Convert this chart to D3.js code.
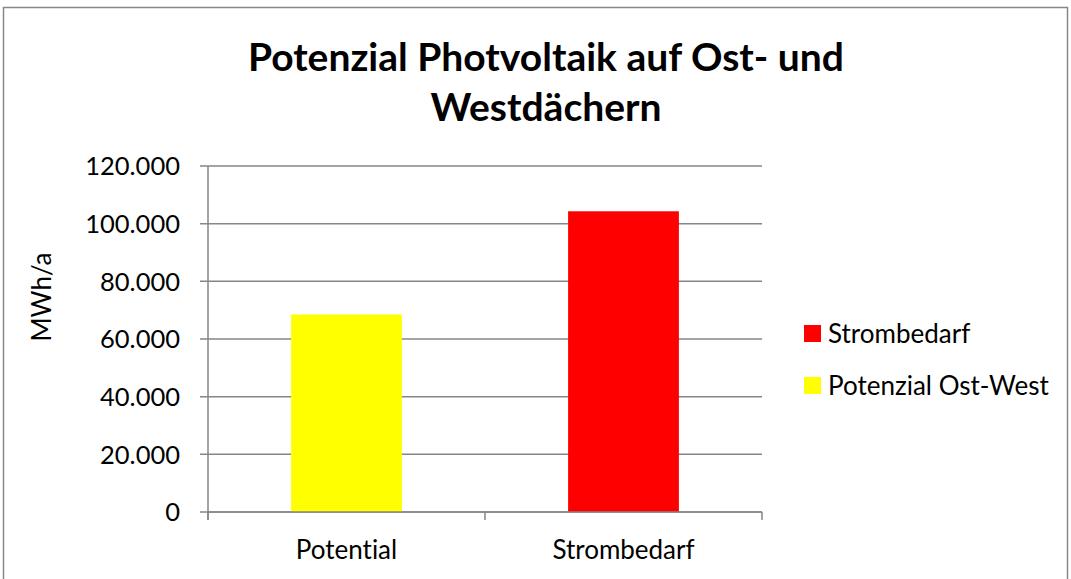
<html>
<head>
  <title>Potenzial Photvoltaik</title>
  <script src="https://d3js.org/d3.v7.min.js"></script>
  <style>
    body { margin: 0; background: #fff; }
    text { font-family: Lato, "Open Sans", sans-serif; fill: #000; font-variant-ligatures: none; }
  </style>
</head>
<body>
<script>
var width = 1071,
    height = 579;

// data
var categories = ["Potential", "Strombedarf"];
var values = [68500, 104300];
var barColors = ["#ffff00", "#ff0000"];
var legendLabels = ["Strombedarf", "Potenzial Ost-West"];
var legendColors = ["#ff0000", "#ffff00"];
var yTicks = [0, 20000, 40000, 60000, 80000, 100000, 120000];

var margin = {top: 166, left: 208, right: 309, bottom: 67};

var svg = d3.select("body")
  .append("svg")
  .attr("width", width)
  .attr("height", height);

// chart frame
svg.append("rect")
  .attr("x", 3.5).attr("y", 7.5)
  .attr("width", 1064).attr("height", 600)
  .attr("fill", "none")
  .attr("stroke", "#888")
  .attr("stroke-width", 1.5);

var x = d3.scaleBand()
  .domain(categories)
  .range([margin.left, width - margin.right])
  .paddingInner(0.6)
  .paddingOuter(0.3);

var y = d3.scaleLinear()
  .domain([0, 120000])
  .range([height - margin.bottom, margin.top]);

var fmt = function(d) { return d3.format(",")(d).replace(/,/g, "."); };

// gridlines
svg.append("g")
  .selectAll("line")
  .data(yTicks)
  .enter()
  .append("line")
    .attr("x1", margin.left - 8)
    .attr("x2", width - margin.right)
    .attr("y1", d => y(d))
    .attr("y2", d => y(d))
    .attr("stroke", "#868686")
    .attr("stroke-width", 1.5);

// bars
svg.append("g")
  .selectAll("rect")
  .data(values)
  .enter()
  .append("rect")
    .attr("x", (d, i) => x(categories[i]))
    .attr("width", x.bandwidth())
    .attr("y", d => y(d))
    .attr("height", d => y(0) - y(d))
    .attr("fill", (d, i) => barColors[i]);

// y axis line
svg.append("line")
  .attr("x1", margin.left).attr("x2", margin.left)
  .attr("y1", y(120000)).attr("y2", y(0) + 8)
  .attr("stroke", "#868686").attr("stroke-width", 1.5);

// x axis line + ticks
svg.append("line")
  .attr("x1", margin.left).attr("x2", width - margin.right)
  .attr("y1", y(0)).attr("y2", y(0))
  .attr("stroke", "#868686").attr("stroke-width", 1.5);

var step = (width - margin.right - margin.left) / categories.length;
svg.append("g")
  .selectAll("line")
  .data(d3.range(categories.length + 1))
  .enter()
  .append("line")
    .attr("x1", i => margin.left + i * step)
    .attr("x2", i => margin.left + i * step)
    .attr("y1", y(0))
    .attr("y2", y(0) + 8)
    .attr("stroke", "#868686").attr("stroke-width", 1.5);

// y tick labels
svg.append("g")
  .selectAll("text")
  .data(yTicks)
  .enter()
  .append("text")
    .attr("x", 180)
    .attr("y", d => y(d))
    .attr("dy", "0.36em")
    .attr("text-anchor", "end")
    .style("font-size", "25.5px")
    .text(fmt);

// category labels
svg.append("g")
  .selectAll("text")
  .data(categories)
  .enter()
  .append("text")
    .attr("x", d => x(d) + x.bandwidth() / 2)
    .attr("y", 559)
    .attr("text-anchor", "middle")
    .style("font-size", "26px")
    .text(d => d);

// y axis title
svg.append("text")
  .attr("transform", "translate(51,297) rotate(-90)")
  .attr("text-anchor", "middle")
  .style("font-size", "26px")
  .text("MWh/a");

// title
var title = svg.append("text")
  .attr("text-anchor", "middle")
  .style("font-size", "39px")
  .style("font-weight", "bold");
title.append("tspan").attr("x", 546).attr("y", 71).text("Potenzial Photvoltaik auf Ost- und");
title.append("tspan").attr("x", 546).attr("y", 121).text("Westdächern");

// legend
var legend = svg.append("g")
  .selectAll("g")
  .data(legendLabels)
  .enter()
  .append("g")
    .attr("transform", (d, i) => "translate(804," + (325 + i * 52) + ")");

legend.append("rect")
  .attr("width", 17).attr("height", 17)
  .attr("fill", (d, i) => legendColors[i]);

legend.append("text")
  .attr("x", 24)
  .attr("y", 8.5)
  .attr("dy", "0.36em")
  .style("font-size", "26px")
  .text(d => d);
</script>
</body>
</html>
